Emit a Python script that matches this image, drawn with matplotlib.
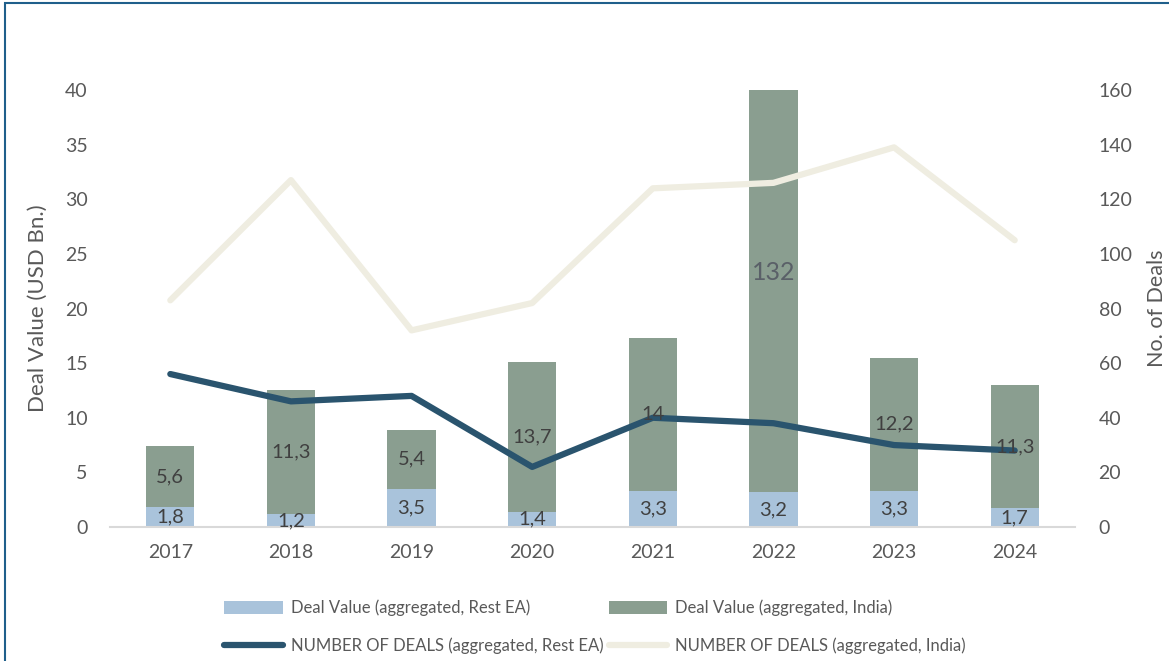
import numpy as np
import matplotlib
matplotlib.use('Agg')
import matplotlib.pyplot as plt
from matplotlib.patches import Rectangle

years = ['2017', '2018', '2019', '2020', '2021', '2022', '2023', '2024']
value_rest = [1.8, 1.2, 3.5, 1.4, 3.3, 3.2, 3.3, 1.7]
value_india = [5.6, 11.3, 5.4, 13.7, 14, 132, 12.2, 11.3]
deals_rest = [56, 46, 48, 22, 40, 38, 30, 28]
deals_india = [83, 127, 72, 82, 124, 126, 139, 105]

c_rest_bar = '#A9C3DB'
c_india_bar = '#8A9E90'
c_rest_line = '#2A546E'
c_india_line = '#EFEDE1'
txt = '#595959'

plt.rcParams['font.family'] = ['Lato', 'DejaVu Sans']

fig = plt.figure(figsize=(11.69, 6.61), dpi=100)
ax = fig.add_axes([110/1169, 1 - 527/661, 965/1169, 437/661])
ax2 = ax.twinx()

x = np.arange(len(years))
b1 = ax.bar(x, value_rest, width=0.4, color=c_rest_bar, zorder=2)
b2 = ax.bar(x, value_india, width=0.4, bottom=value_rest, color=c_india_bar, zorder=2)

# lines sit on the twin axes, above the bars
l2, = ax2.plot(x, deals_india, color=c_india_line, lw=4.5, solid_capstyle='round', zorder=1)
l1, = ax2.plot(x, deals_rest, color=c_rest_line, lw=4.5, solid_capstyle='round', zorder=2)

def fmt(v):
    return f'{v:g}'.replace('.', ',')

# data labels go on top of everything
ymax = 40
for xi, r, ind in zip(x, value_rest, value_india):
    ax2.text(xi, r / 2, fmt(r), transform=ax.transData, ha='center', va='center',
             fontsize=14.5, color='#404040', zorder=5)
    if r + ind > ymax:
        # bar is cut at the axis top, label shown larger
        ax2.text(xi, (r + ymax) / 2 + 1.7, fmt(ind), transform=ax.transData, ha='center',
                 va='center', fontsize=18, color='#5A6068', zorder=5)
    else:
        ax2.text(xi, r + ind / 2, fmt(ind), transform=ax.transData, ha='center', va='center',
                 fontsize=14.5, color='#404040', zorder=5)

ax.set_ylim(0, ymax)
ax.set_xlim(-0.5, 7.5)
ax.set_yticks(range(0, 41, 5))
ax.set_xticks(x)
ax.set_xticklabels(years)
ax2.set_ylim(0, 160)
ax2.set_yticks(range(0, 161, 20))

for a in (ax, ax2):
    for s in a.spines.values():
        s.set_visible(False)
    a.tick_params(length=0, labelsize=14, labelcolor=txt)
ax.spines['bottom'].set_visible(True)
ax.spines['bottom'].set_color('#D9D9D9')
ax.spines['bottom'].set_linewidth(1.5)
ax.tick_params(axis='y', pad=16)
ax.tick_params(axis='x', pad=12)
ax2.tick_params(axis='y', pad=17)

ax.set_ylabel('Deal Value (USD Bn.)', fontsize=16, color=txt)
ax.yaxis.set_label_coords(-62/965, 0.5)
ax2.set_ylabel('No. of Deals', fontsize=15.5, color=txt)
ax2.yaxis.set_label_coords(1 + 72/965, 0.5)

fig.legend([b1, l1, b2, l2],
           ['Deal Value (aggregated, Rest EA)', 'NUMBER OF DEALS (aggregated, Rest EA)',
            'Deal Value (aggregated, India)', 'NUMBER OF DEALS (aggregated, India)'],
           ncol=2, loc='center', bbox_to_anchor=(595/1169, 1 - 627/661), frameon=False,
           fontsize=12, labelcolor=txt, handlelength=3.5,
           handleheight=0.8, columnspacing=0.3, labelspacing=1.3, handletextpad=0.5)

fig.patches.append(Rectangle((5/1169, -0.1), 1.2, 1 - 3/661 + 0.1, transform=fig.transFigure,
                             fill=False, edgecolor='#1F5F8B', lw=1.5))

fig.savefig('out.png', dpi=100)
